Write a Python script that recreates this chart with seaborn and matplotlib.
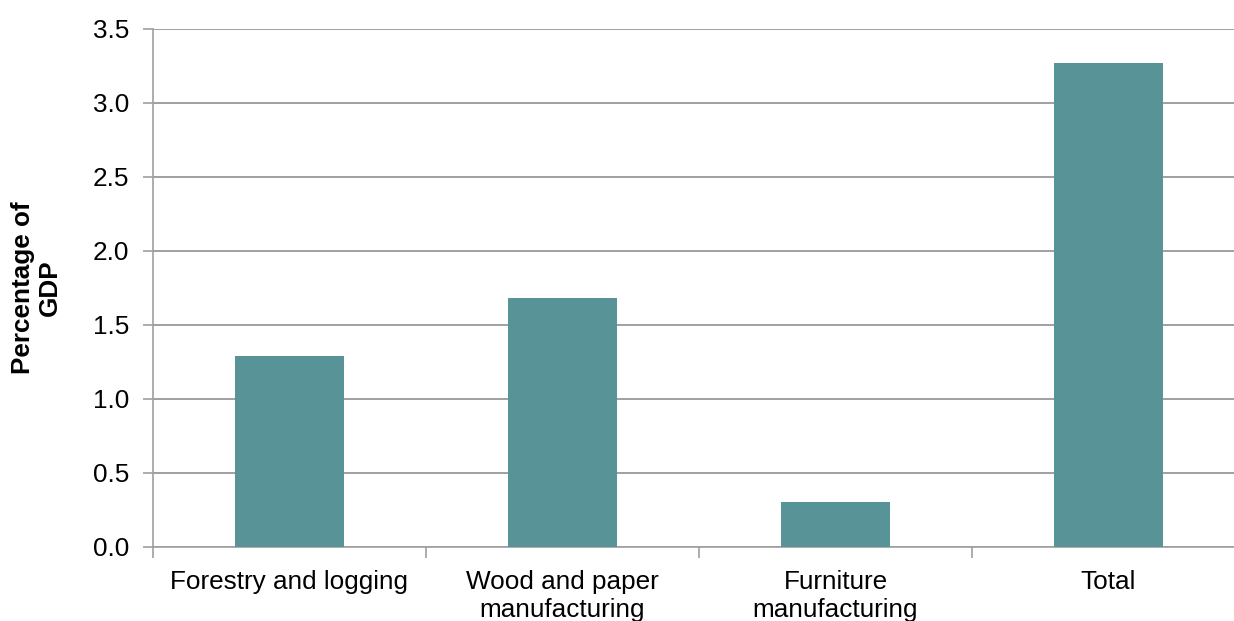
import matplotlib
matplotlib.use("Agg")
import matplotlib.pyplot as plt
import seaborn as sns
import pandas as pd

# data
categories = ["Forestry and logging", "Wood and paper\nmanufacturing",
              "Furniture\nmanufacturing", "Total"]
values = [1.29, 1.68, 0.30, 3.27]

y_ticks = [0.0, 0.5, 1.0, 1.5, 2.0, 2.5, 3.0, 3.5]

bar_color = "#589497"
grid_color = "#a0a0a0"
font_size = 18.8

df = pd.DataFrame({"Category": categories, "Value": values})

sns.set_theme(style="white")
plt.rcParams["font.family"] = ["Liberation Sans", "DejaVu Sans"]
plt.rcParams["text.color"] = "black"
plt.rcParams["axes.labelcolor"] = "black"
plt.rcParams["xtick.labelcolor"] = "black"
plt.rcParams["ytick.labelcolor"] = "black"

fig = plt.figure(figsize=(12.34, 6.21), dpi=100)
# the plot runs slightly past the right edge of the picture, as in the reference
ax = fig.add_axes([153 / 1234, 74.3 / 621, 1092 / 1234, 518 / 621])

sns.barplot(data=df, x="Category", y="Value", color=bar_color,
            width=0.4, saturation=1, edgecolor="none", ax=ax, zorder=3)

ax.set_ylim(0, 3.5)
ax.set_xlim(-0.5, len(categories) - 0.5)
ax.set_yticks(y_ticks)
ax.set_yticklabels([f"{t:.1f}" for t in y_ticks])

ax.yaxis.grid(True, color=grid_color, linewidth=1.4, zorder=0)
ax.set_axisbelow(True)

for side in ["top", "right"]:
    ax.spines[side].set_visible(False)
for side in ["left", "bottom"]:
    ax.spines[side].set_color(grid_color)
    ax.spines[side].set_linewidth(1.2)

# x ticks between categories, labels centred under bars
ax.set_xticks([i - 0.5 for i in range(len(categories) + 1)], minor=True)
ax.tick_params(axis="x", which="major", length=0, pad=17, labelsize=font_size)
ax.tick_params(axis="x", which="minor", length=8, color=grid_color, width=1.2,
               direction="out", bottom=True)
ax.tick_params(axis="y", length=7, color=grid_color, width=1.2, left=True,
               direction="out", pad=10, labelsize=font_size)

ax.set_xlabel("")
ax.set_ylabel("Percentage of\nGDP", fontsize=font_size, fontweight="bold", labelpad=22)

fig.savefig("out.png", dpi=100)
